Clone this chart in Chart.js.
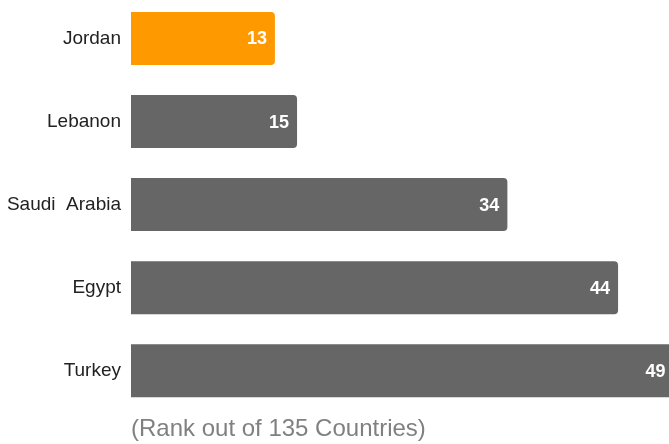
<!DOCTYPE html>
<html>
<head>
<meta charset="utf-8">
<style>
  html, body { margin: 0; padding: 0; background: #fff; overflow: hidden; }
  #wrap { width: 669px; height: 447px; position: relative; top: -3px; }
</style>
<script src="https://cdn.jsdelivr.net/npm/chart.js@4"></script>
</head>
<body>
<div id="wrap"><canvas id="rankChart"></canvas></div>
<script>
const countries = ['Jordan', 'Lebanon', 'Saudi  Arabia', 'Egypt', 'Turkey'];
const ranks = [13, 15, 34, 44, 49];
const barColors = ['#ff9900', '#666666', '#666666', '#666666', '#666666'];

const FONT = '"Liberation Sans", Arial, sans-serif';

// white value text drawn inside the end of each bar
const barValues = {
    id: 'barValues',
    afterDatasetsDraw(chart) {
        const ctx = chart.ctx;
        const meta = chart.getDatasetMeta(0);
        ctx.save();
        ctx.font = 'bold 18px ' + FONT;
        ctx.fillStyle = '#ffffff';
        ctx.textAlign = 'right';
        ctx.textBaseline = 'middle';
        meta.data.forEach((bar, i) => {
            ctx.fillText(String(ranks[i]), bar.x - 8, bar.y + 1);
        });
        ctx.restore();
    }
};

new Chart(document.getElementById('rankChart'), {
    type: 'bar',
    data: {
        labels: countries,
        datasets: [{
            data: ranks,
            backgroundColor: barColors,
            borderRadius: 4,
            barPercentage: 53 / 83,
            categoryPercentage: 1
        }]
    },
    options: {
        indexAxis: 'y',
        responsive: true,
        maintainAspectRatio: false,
        animation: false,
        layout: { padding: 0 },
        scales: {
            x: { display: false, min: 0, max: 48.6 },
            y: {
                grid: { display: false, drawTicks: false },
                border: { display: false },
                ticks: {
                    padding: 10,
                    color: '#222222',
                    font: { family: FONT, size: 19 }
                },
                afterFit(scale) {
                    scale.width = 131;
                    scale.paddingTop = 0;
                    scale.paddingBottom = 0;
                }
            }
        },
        plugins: {
            legend: { display: false },
            tooltip: { enabled: false },
            title: {
                display: true,
                position: 'bottom',
                align: 'start',
                fullSize: false,
                text: '(Rank out of 135 Countries)',
                color: '#808080',
                font: { family: FONT, size: 24, weight: 'normal' },
                padding: { top: 3, bottom: 0 }
            }
        }
    },
    plugins: [barValues]
});
</script>
</body>
</html>
